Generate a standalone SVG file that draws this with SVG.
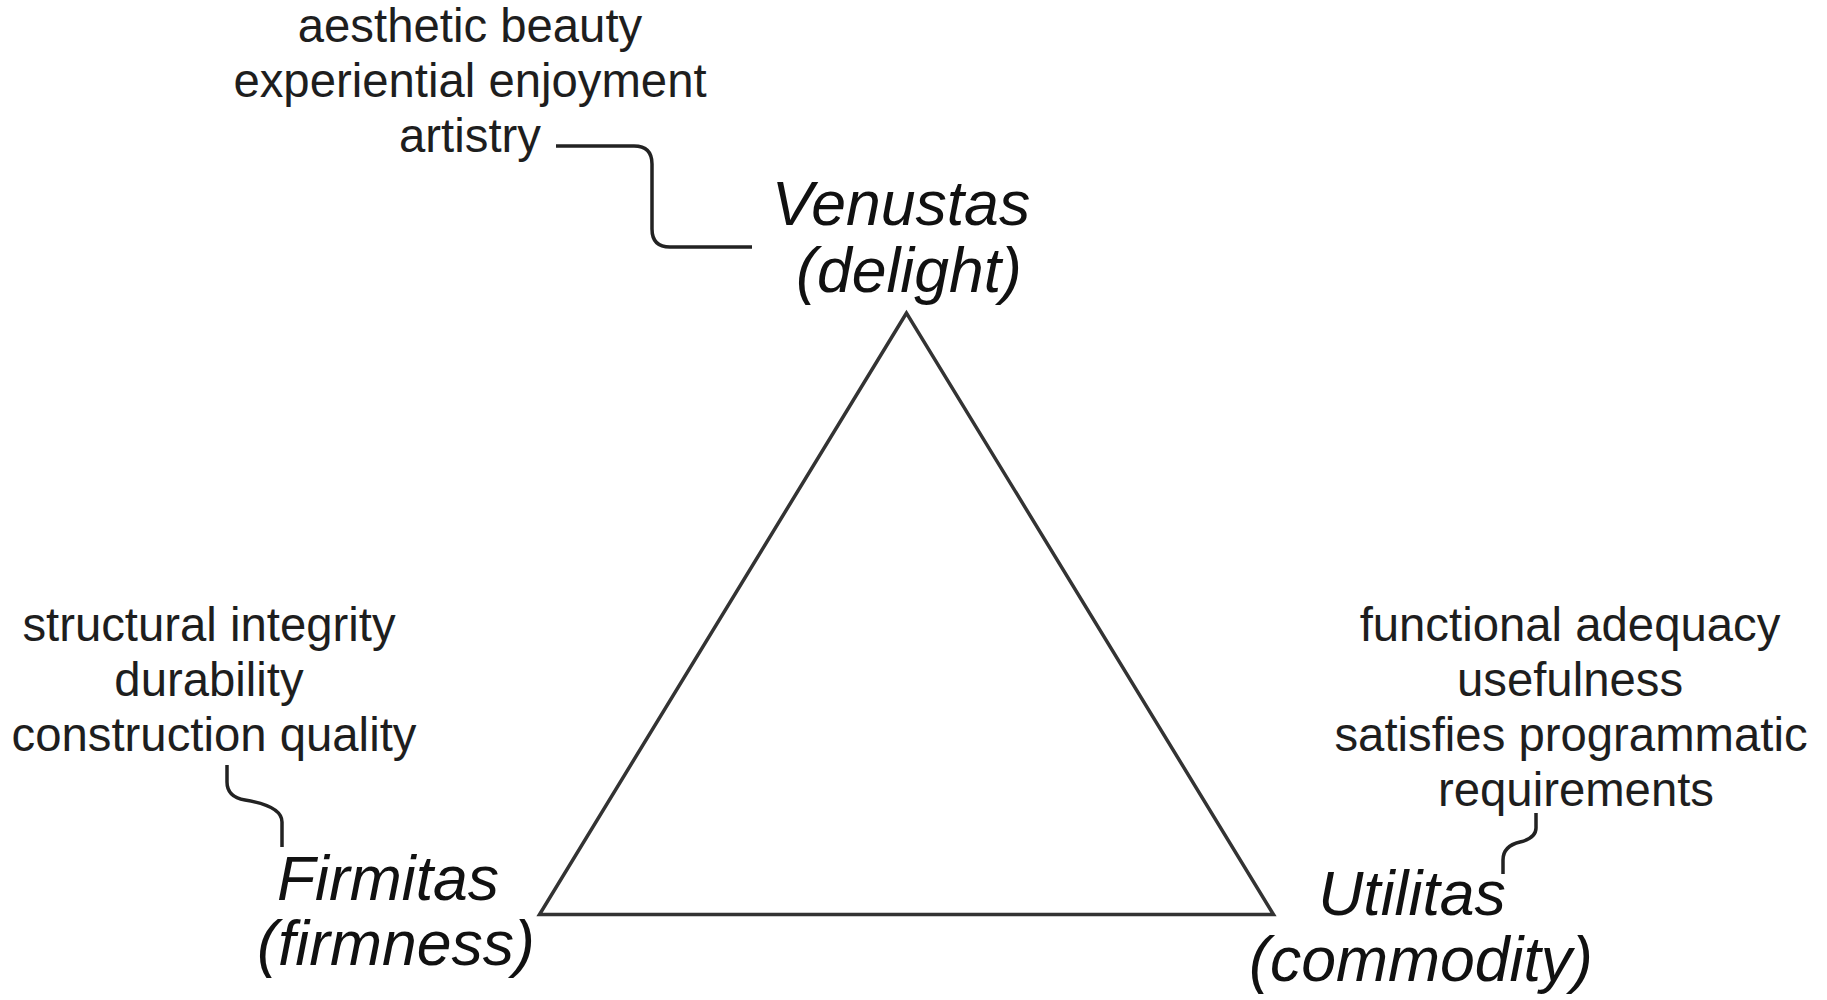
<svg xmlns="http://www.w3.org/2000/svg" width="1827" height="1000" viewBox="0 0 1827 1000">
<style>
.t{font-family:"Liberation Sans",Arial,sans-serif;font-size:47.3px;fill:#1e1e1e;text-anchor:middle}
.h{font-family:"Liberation Sans",Arial,sans-serif;font-size:62.5px;font-style:italic;fill:#111;text-anchor:middle}
.c{fill:none;stroke:#222;stroke-width:3.5;stroke-linecap:butt}
</style>
<rect width="1827" height="1000" fill="#fff"/>
<g id="triangle">
<polygon points="906.5,313 539.5,914.5 1273.5,914.5" fill="none" stroke="#333" stroke-width="3.5" stroke-linejoin="miter"/>
</g>
<g id="venustas">
<text class="h" x="901" y="225">Venustas</text>
<text class="h" x="909" y="292">(delight)</text>
</g>
<g id="venustas-notes">
<text class="t" x="470" y="42">aesthetic beauty</text>
<text class="t" x="470" y="97">experiential enjoyment</text>
<text class="t" x="470" y="152">artistry</text>
</g>
<g id="firmitas">
<text class="h" x="388" y="900">Firmitas</text>
<text class="h" x="396" y="965">(firmness)</text>
</g>
<g id="firmitas-notes">
<text class="t" x="209" y="641">structural integrity</text>
<text class="t" x="209" y="696">durability</text>
<text class="t" x="214" y="751">construction quality</text>
</g>
<g id="utilitas">
<text class="h" x="1412" y="915">Utilitas</text>
<text class="h" x="1421" y="981">(commodity)</text>
</g>
<g id="utilitas-notes">
<text class="t" x="1570" y="641">functional adequacy</text>
<text class="t" x="1570" y="696">usefulness</text>
<text class="t" x="1571" y="751">satisfies programmatic</text>
<text class="t" x="1576" y="806">requirements</text>
</g>
<g id="connectors">
<path class="c" d="M556,146 H634 Q652,146 652,164 V229 Q652,247 670,247 H752"/>
<path class="c" d="M227,765 V782 Q227,797 245,800 Q282,806 282,822 V847"/>
<path class="c" d="M1536,813 V828 Q1536,838 1520,842 Q1503,846 1503,860 V874"/>
</g>
</svg>
